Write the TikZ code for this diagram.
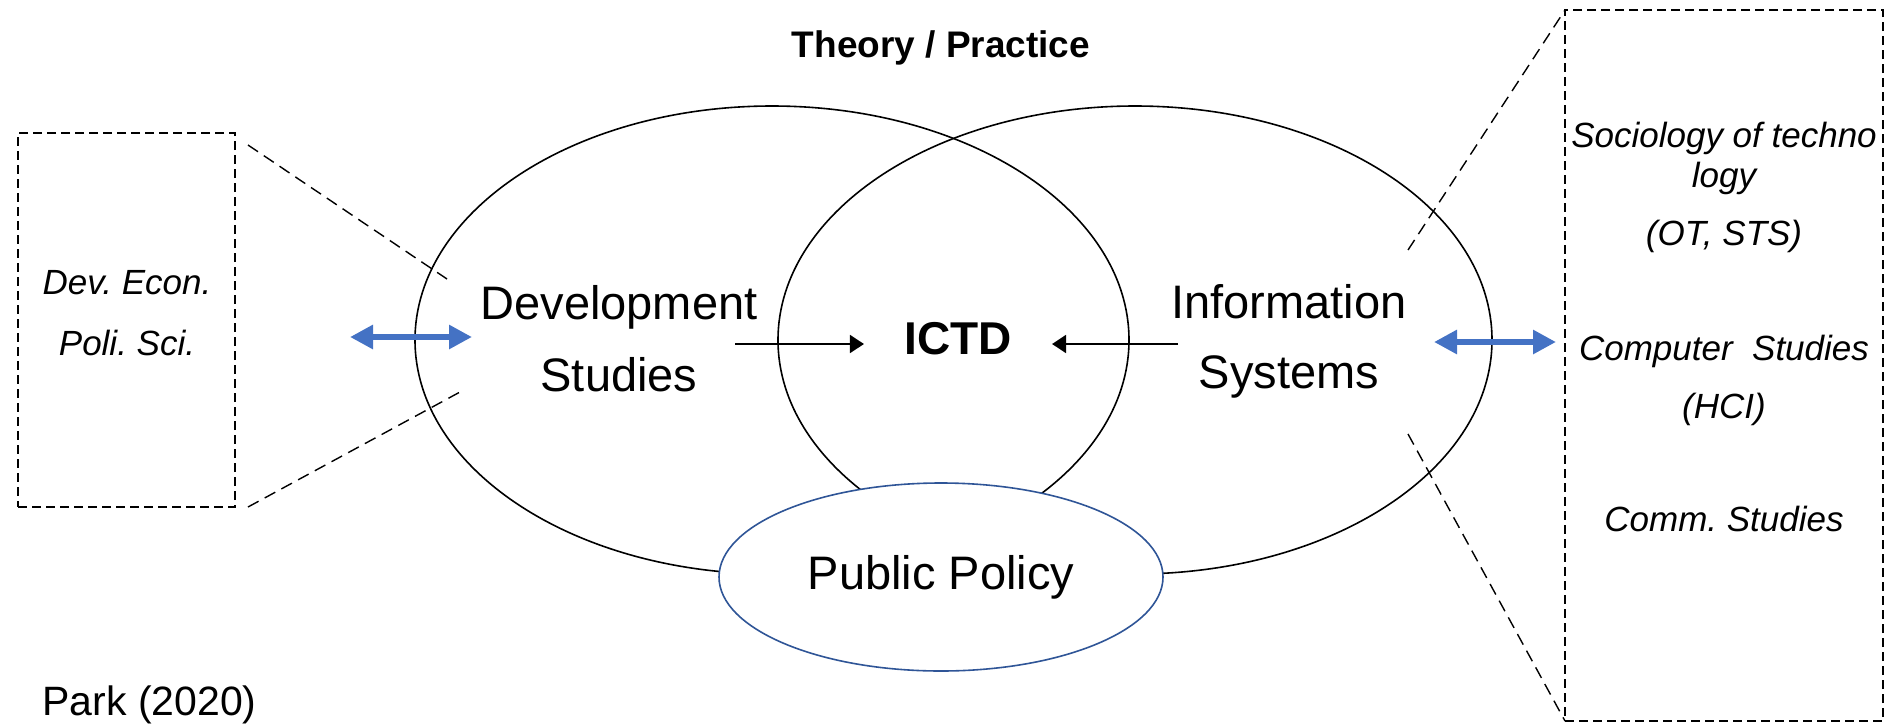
\documentclass[tikz,border=0pt]{standalone}
\usepackage{fontspec}
\setmainfont{Liberation Sans}
\usetikzlibrary{shapes.geometric,arrows.meta}
\frenchspacing
\definecolor{linkblue}{HTML}{4472C4}
\definecolor{policyblue}{HTML}{2F5597}
\tikzset{
  field/.style={ellipse,draw,line width=0.8pt,minimum width=357pt,minimum height=234pt},
  policy/.style={ellipse,draw=policyblue,fill=white,line width=0.8pt,
    minimum width=222pt,minimum height=94pt,font=\fontsize{23.5}{28}\selectfont},
  box/.style={draw,line width=0.7pt,dash pattern=on 4.5pt off 2.5pt,outer sep=0pt},
  zoomline/.style={line width=0.7pt,dash pattern=on 6pt off 3.5pt},
  flow/.style={-{Triangle[length=7pt,width=9pt]},line width=0.9pt},
  link/.style={{Triangle[length=11.5pt,width=11.5pt]}-{Triangle[length=11.5pt,width=11.5pt]},
    line width=3pt,linkblue},
  big/.style={anchor=base,inner sep=0pt,font=\fontsize{23.5}{28}\selectfont},
  core/.style={anchor=base,inner ysep=0pt,inner xsep=20pt,font=\fontsize{23}{28}\bfseries},
  head/.style={anchor=base,inner sep=0pt,font=\fontsize{18.5}{22}\bfseries},
  area/.style={anchor=base,inner sep=0pt,font=\fontsize{17.5}{21}\itshape}
}

\begin{document}
\begin{tikzpicture}[x=0.5pt,y=-0.5pt]
  \useasboundingbox (0,0) rectangle (1890,724);

  % the two fields and the policy overlap
  \node[field] (devset) at (772,340) {};
  \node[field] (infset) at (1135,340) {};
  \node[policy] (pp) at (941,577) {Public Policy};

  \node[big] (dev1) at (619,319) {Development};
  \node[big] (dev2) at (619,391) {Studies};
  \node[big] (inf1) at (1289,318) {Information};
  \node[big] (inf2) at (1289,388) {Systems};
  \node[core] (ictd) at (958,354) {ICTD};
  \node[head] (title) at (941,57) {Theory / Practice};
  \node[big,anchor=base west,font=\fontsize{20.5}{24}\selectfont] (cite) at (42,715) {Park (2020)};

  % neighbouring disciplines
  \node[box,minimum width=108.5pt,minimum height=187pt] (lbox) at (126.5,320) {};
  \node[area] (econ) at (127,294) {Dev. Econ.};
  \node[area] (poli) at (127,355) {Poli. Sci.};

  \node[box,minimum width=159pt,minimum height=355.5pt] (rbox) at (1724,365.5) {};
  \node[area] (soc1) at (1724,147) {Sociology of techno};
  \node[area] (soc2) at (1724,187) {logy};
  \node[area] (ots) at (1724,245) {(OT, STS)};
  \node[area] (comp) at (1724,360) {Computer\ \ Studies};
  \node[area] (hci) at (1724,418) {(HCI)};
  \node[area] (comm) at (1724,531) {Comm. Studies};

  % arrows
  \coordinate (devout) at (735,344);
  \coordinate (infout) at (1178,344);
  \draw[flow] (devout) -- (devout -| ictd.west);
  \draw[flow] (infout) -- (infout -| ictd.east);

  \coordinate (lfrom) at (350,337);
  \coordinate (lto) at (472,337);
  \coordinate (rfrom) at (1434,342);
  \coordinate (rto) at (1556,342);
  \draw[link] (lfrom) -- (lto);
  \draw[link] (rfrom) -- (rto);

  % zoom lines to the boxes
  \coordinate (lz1) at (248,145);
  \coordinate (lz2) at (447,279);
  \coordinate (lz3) at (248,507);
  \coordinate (lz4) at (460,392);
  \draw[zoomline] (lz1) -- (lz2);
  \draw[zoomline] (lz3) -- (lz4);
  \coordinate (rz1) at (1408,250);
  \coordinate (rz2) at (1408,434);
  \draw[zoomline] (rz1) -- (rbox.north west);
  \draw[zoomline] (rz2) -- (rbox.south west);
\end{tikzpicture}
\end{document}
